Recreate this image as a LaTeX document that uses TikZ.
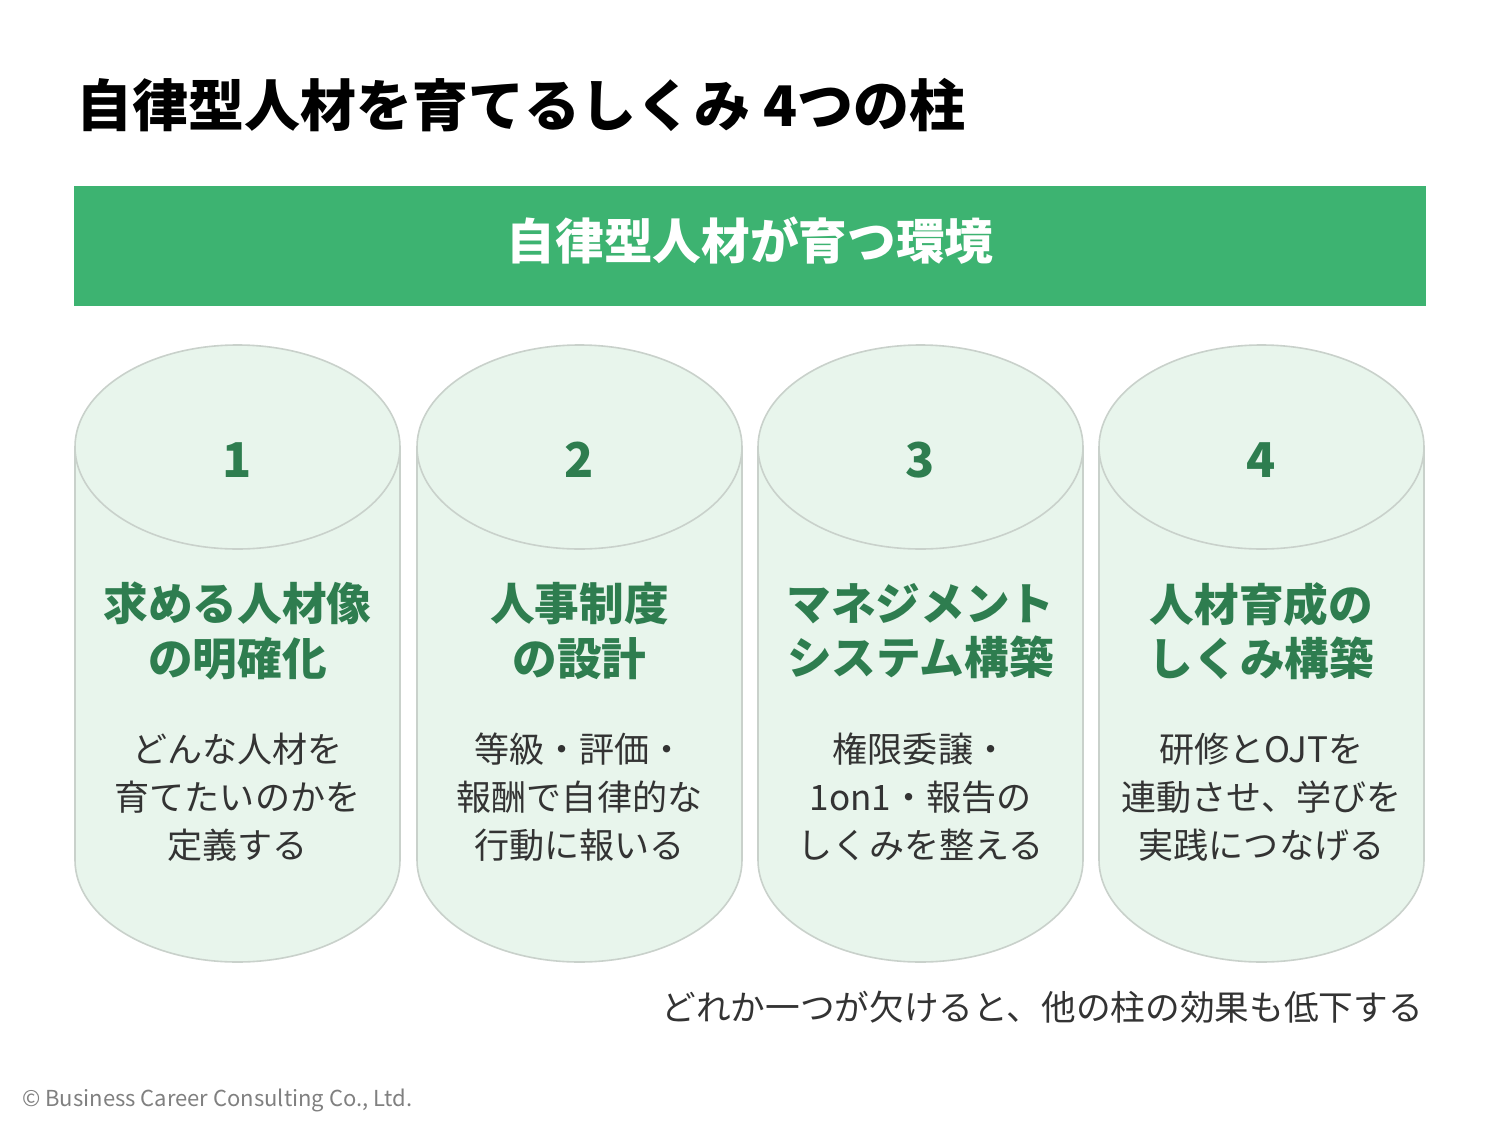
\documentclass[tikz,border=0pt]{standalone}
\usepackage{fontspec}
\setmainfont{Noto Sans CJK JP}
\definecolor{banner}{HTML}{3DB371}
\definecolor{cylfill}{HTML}{E8F5EC}
\definecolor{cylline}{HTML}{C9D1CB}
\definecolor{dgreen}{HTML}{2E7D4F}
\definecolor{txt}{HTML}{333333}
\begin{document}
\begin{tikzpicture}[x=0.75pt,y=-0.75pt,
  cyl/.style={fill=cylfill,draw=cylline,line width=1.2pt},
  num/.style={font=\fontsize{36}{40}\selectfont\bfseries,text=dgreen},
  head/.style={font=\fontsize{33.5}{41}\selectfont\bfseries,text=dgreen,align=center},
  body/.style={font=\fontsize{26.3}{36}\selectfont,text=txt,align=center}]
\useasboundingbox (0,0) rectangle (1500,1125);
\fill[white] (0,0) rectangle (1500,1125);
\node[anchor=west,inner sep=0pt,font=\fontsize{42}{46}\selectfont\bfseries,text=black] (title) at (76,105) {自律型人材を育てるしくみ 4つの柱};
\fill[banner] (74,186) rectangle (1426,306);
\node[font=\fontsize{36.5}{40}\selectfont\bfseries,text=white] (ban) at (750,241) {自律型人材が育つ環境};
\foreach \x/\n/\h/\b [count=\i] in {
 75/1/{求める人材像\\の明確化}/{どんな人材を\\育てたいのかを\\定義する},
 417/2/{人事制度\\の設計}/{等級・評価・\\報酬で自律的な\\行動に報いる},
 758/3/{マネジメント\\システム構築}/{権限委譲・\\1on1・報告の\\しくみを整える},
 1099/4/{人材育成の\\しくみ構築}/{研修とOJTを\\連動させ、学びを\\実践につなげる}}{
  \pgfmathsetmacro{\cx}{\x+162.5}
  \path[cyl] (\x,447) -- (\x,860) arc[start angle=180,end angle=360,x radius=162.5,y radius=-102] -- (\x+325,447) -- cycle;
  \path[cyl] (\cx,447) ellipse[x radius=162.5,y radius=102];
  \node[num] (n\i) at (\cx,460) {\n};
  \node[head] (h\i) at (\cx,631) {\h};
  \node[body] (b\i) at (\cx,797) {\b};
}
\node[anchor=east,inner sep=0pt,font=\fontsize{26}{30}\selectfont,text=txt] (note) at (1423,1007) {どれか一つが欠けると、他の柱の効果も低下する};
\node[anchor=west,inner sep=0pt,font=\fontsize{16.5}{20}\selectfont,text=gray] (copy) at (22,1100) {© Business Career Consulting Co., Ltd.};
\end{tikzpicture}
\end{document}
